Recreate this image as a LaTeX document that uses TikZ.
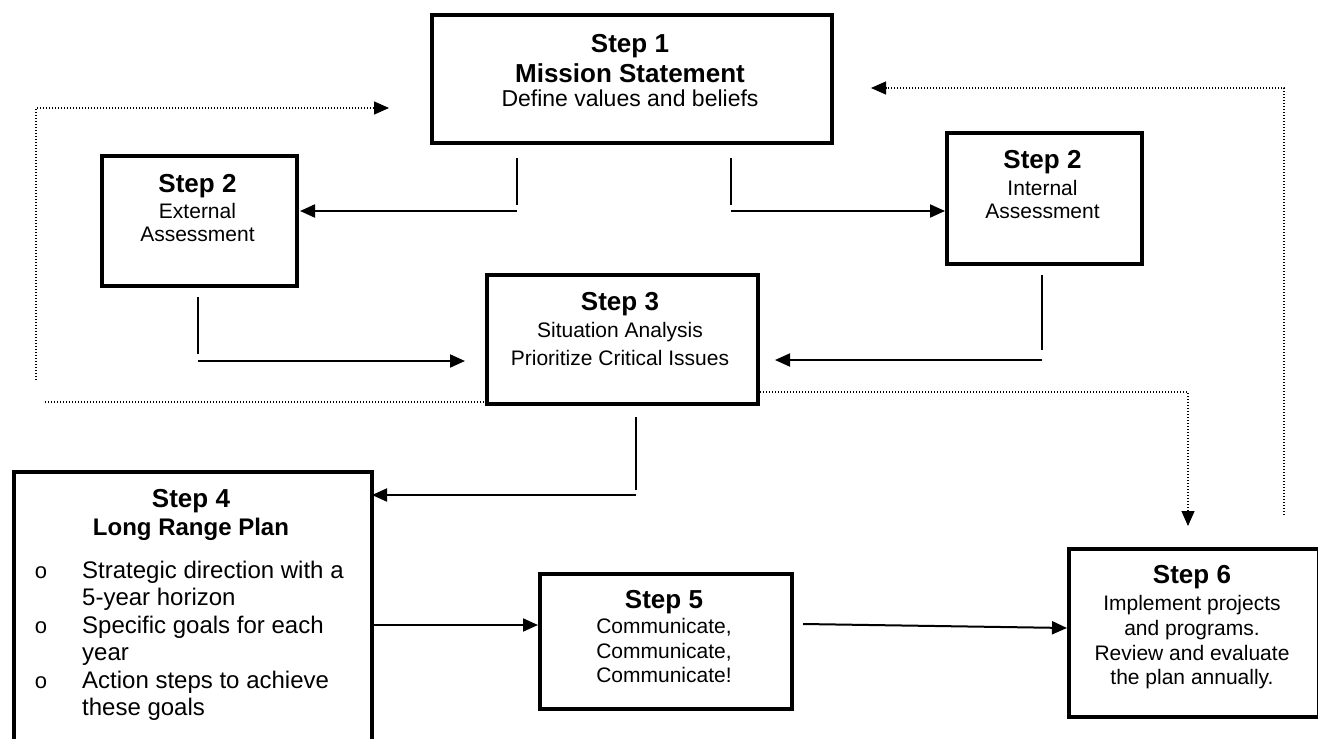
\documentclass[tikz,border=0pt]{standalone}
\usepackage{fontspec}
\setmainfont{Liberation Sans}
\usetikzlibrary{arrows.meta}
\begin{document}
\begin{tikzpicture}[x=1pt,y=-1pt,
  stepbox/.style={draw, line width=4pt, inner sep=0pt, anchor=north west},
  conn/.style={line width=2pt},
  carr/.style={line width=2pt, -{Triangle[length=15pt,width=13pt]}},
  dotln/.style={line width=1.3pt, dash pattern=on 1.3pt off 1.7pt},
  darr/.style={dotln, -{Triangle[length=15pt,width=13pt]}},
  hd/.style={font=\fontsize{26}{30}\selectfont\bfseries, inner sep=0pt, anchor=base},
  hdb/.style={font=\fontsize{24}{28}\selectfont\bfseries, inner sep=0pt, anchor=base},
  bd/.style={font=\fontsize{21}{25}\selectfont, inner sep=0pt, anchor=base},
  bdl/.style={font=\fontsize{23}{27}\selectfont, inner sep=0pt, anchor=base},
  bl/.style={font=\fontsize{24}{28}\selectfont, inner sep=0pt, anchor=base west},
  bu/.style={font=\fontsize{22}{26}\selectfont, inner sep=0pt, anchor=base}]
\useasboundingbox (0,0) rectangle (1318,739);
\clip (0,0) rectangle (1318,739);
\fill[white] (0,0) rectangle (1318,739);

% ---- boxes
\node[stepbox, minimum width=400pt, minimum height=128pt] (s1) at (430,13) {};
\node[stepbox, minimum width=195pt, minimum height=130pt] (s2e) at (100,154) {};
\node[stepbox, minimum width=195pt, minimum height=131pt] (s2i) at (945,131) {};
\node[stepbox, minimum width=271pt, minimum height=129pt] (s3) at (485,273) {};
\node[stepbox, minimum width=358pt, minimum height=320pt] (s4) at (12,470) {};
\node[stepbox, minimum width=252pt, minimum height=135pt] (s5) at (538,572) {};
\node[stepbox, minimum width=250pt, minimum height=168pt] (s6) at (1067,547) {};

% ---- texts
\node[hd] (t1a) at (630,52) {Step 1};
\node[hd] (t1b) at (630,82) {Mission Statement};
\node[bdl] (t1c) at (630,106) {Define values and beliefs};

\node[hd] (t2a) at (197.5,192) {Step 2};
\node[bd] (t2b) at (197.5,218) {External};
\node[bd] (t2c) at (197.5,241) {Assessment};

\node[hd] (t2d) at (1042.5,168) {Step 2};
\node[bd] (t2e) at (1042.5,195) {Internal};
\node[bd] (t2f) at (1042.5,218) {Assessment};

\node[hd] (t3a) at (620,310) {Step 3};
\node[bd] (t3b) at (620,337) {Situation Analysis};
\node[bd] (t3c) at (620,365) {Prioritize Critical Issues};

\node[hd] (t4a) at (191,507) {Step 4};
\node[hdb] (t4b) at (191,535) {Long Range Plan};
\node[bu] (o1) at (41,578) {o};
\node[bl] (t4c) at (82,578) {Strategic direction with a};
\node[bl] (t4d) at (82,605.5) {5-year horizon};
\node[bu] (o2) at (41,633) {o};
\node[bl] (t4e) at (82,633) {Specific goals for each};
\node[bl] (t4f) at (82,660.5) {year};
\node[bu] (o3) at (41,688) {o};
\node[bl] (t4g) at (82,688) {Action steps to achieve};
\node[bl] (t4h) at (82,715.5) {these goals};

\node[hd] (t5a) at (664,608) {Step 5};
\node[bd] (t5b) at (664,633) {Communicate,};
\node[bd] (t5c) at (664,658) {Communicate,};
\node[bd] (t5d) at (664,682) {Communicate!};

\node[hd] (t6a) at (1192,583) {Step 6};
\node[bd] (t6b) at (1192,610) {Implement projects};
\node[bd] (t6c) at (1192,635) {and programs.};
\node[bd] (t6d) at (1192,660) {Review and evaluate};
\node[bd] (t6e) at (1192,684) {the plan annually.};

% ---- connector coordinates
\coordinate (a1) at (517,158);
\coordinate (a2) at (517,205);
\coordinate (a3) at (517,211);
\coordinate (a4) at (300,211);
\coordinate (b1) at (731,158);
\coordinate (b2) at (731,205);
\coordinate (b3) at (731,211);
\coordinate (b4) at (945,211);
\coordinate (c1) at (198,297);
\coordinate (c2) at (198,354);
\coordinate (c3) at (198,361);
\coordinate (c4) at (465,361);
\coordinate (d1) at (1042,275);
\coordinate (d2) at (1042,350);
\coordinate (d3) at (1042,360);
\coordinate (d4) at (775,360);
\coordinate (e1) at (636,417);
\coordinate (e2) at (636,490);
\coordinate (e3) at (636,495);
\coordinate (e4) at (372,495);
\coordinate (f1) at (372,625);
\coordinate (f2) at (538,625);
\coordinate (g1) at (803,624);
\coordinate (g2) at (1067,628);
\coordinate (h1) at (757,392);
\coordinate (h2) at (1188,392);
\coordinate (h3) at (1188,526);
\coordinate (i1) at (1284,515);
\coordinate (i2) at (1284,88);
\coordinate (i3) at (871,88);
\coordinate (j1) at (36,380);
\coordinate (j2) at (36,108);
\coordinate (j3) at (389,108);
\coordinate (k1) at (45,402);
\coordinate (k2) at (485,402);

% ---- solid connectors
\draw[conn] (a1) -- (a2);
\draw[carr] (a3) -- (a4);
\draw[conn] (b1) -- (b2);
\draw[carr] (b3) -- (b4);
\draw[conn] (c1) -- (c2);
\draw[carr] (c3) -- (c4);
\draw[conn] (d1) -- (d2);
\draw[carr] (d3) -- (d4);
\draw[conn] (e1) -- (e2);
\draw[carr] (e3) -- (e4);
\draw[carr] (f1) -- (f2);
\draw[carr] (g1) -- (g2);

% ---- dotted connectors
\draw[darr] (h1) -- (h2) -- (h3);
\draw[darr] (i1) -- (i2) -- (i3);
\draw[darr] (j1) -- (j2) -- (j3);
\draw[dotln] (k1) -- (k2);
\end{tikzpicture}
\end{document}
